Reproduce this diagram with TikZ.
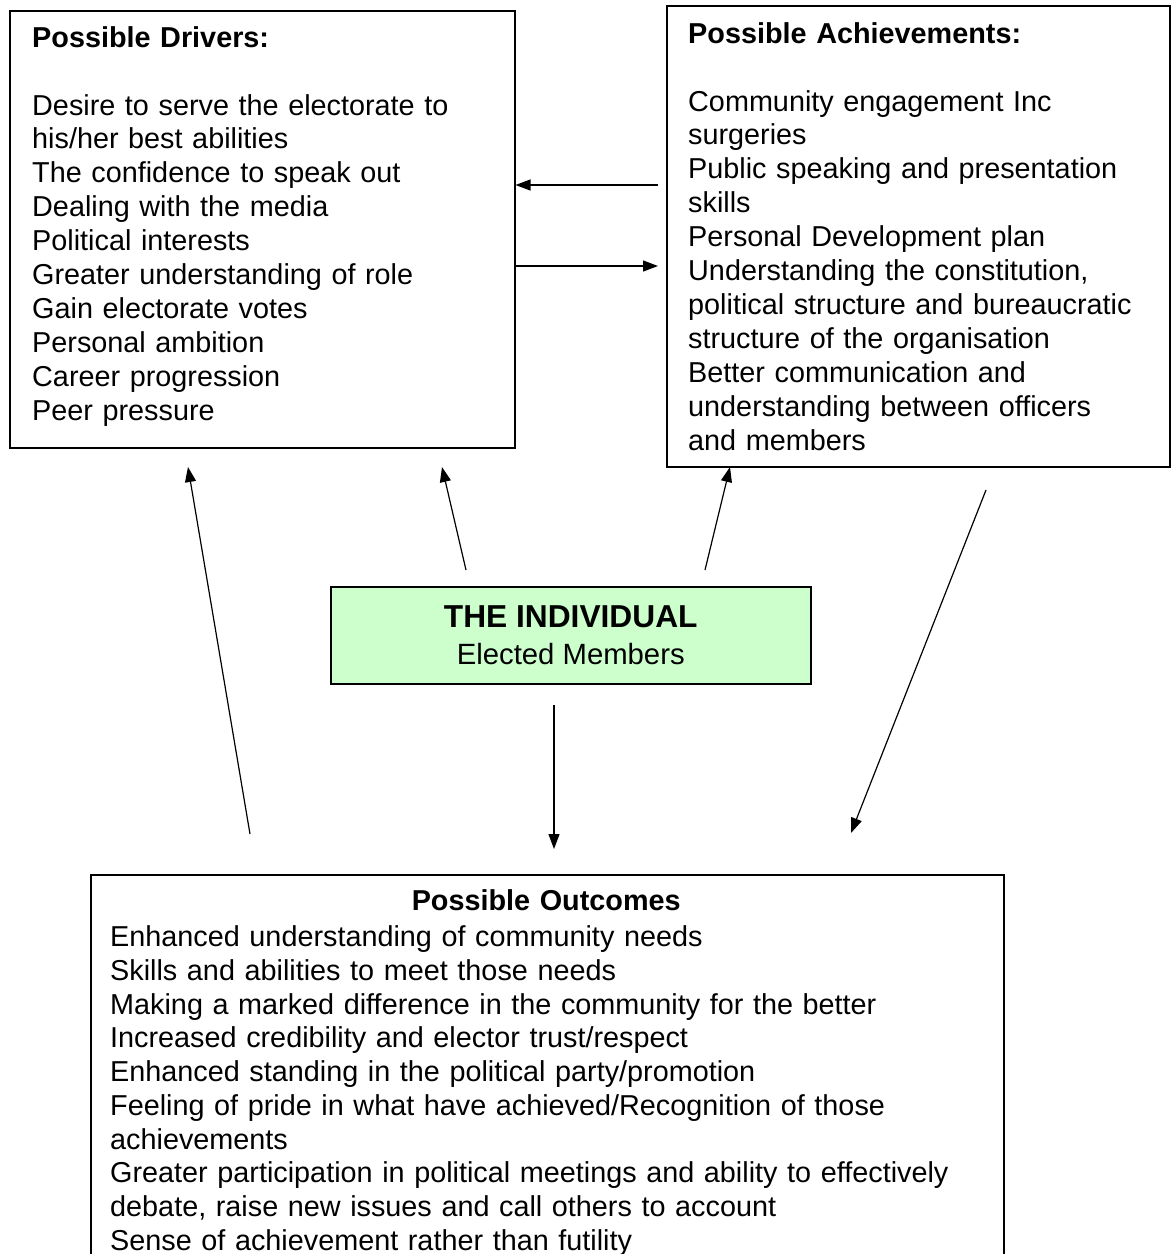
\documentclass[tikz,border=0pt]{standalone}
\usepackage{fontspec}
\setmainfont{Liberation Sans}
\usetikzlibrary{arrows.meta}
\definecolor{boxgreen}{HTML}{CCFFCC}
\begin{document}
\begin{tikzpicture}[x=1pt,y=-1pt,
  box/.style={draw=black, line width=1.5pt, rectangle, inner sep=0pt, anchor=north west},
  arr/.style={line width=1.2pt, -{Triangle[length=15pt,width=11pt]}},
  txt/.style={inner sep=0pt, anchor=north west, align=left, font={\fontsize{28.8}{33.9}\selectfont}}]
\useasboundingbox (0,0) rectangle (1171,1254);
\clip (0,0) rectangle (1171,1254);

% boxes
\node[box, minimum width=505, minimum height=437] (drivers) at (9,10) {};
\node[box, minimum width=503, minimum height=461] (achieve) at (666,5) {};
\node[box, minimum width=913, minimum height=450] (outcomes) at (90,874) {};
\node[box, fill=boxgreen, minimum width=480, minimum height=97, align=center,
      font={\fontsize{29.3}{36.5}\selectfont}] (indiv) at (330,586)
  {{\fontsize{31.7}{36.5}\selectfont\bfseries THE INDIVIDUAL}\\ Elected Members};

% texts
\node[txt, text width=480] (drvtext) at (32,23.3)
 {\strut\textbf{Possible Drivers:}\\[33.9pt]
  Desire to serve the electorate to\\
  his/her best abilities\\
  The confidence to speak out\\
  Dealing with the media\\
  Political interests\\
  Greater understanding of role\\
  Gain electorate votes\\
  Personal ambition\\
  Career progression\\
  Peer pressure};

\node[txt, text width=480] (achtext) at (688,19.3)
 {\strut\textbf{Possible Achievements:}\\[33.9pt]
  Community engagement Inc\\
  surgeries\\
  Public speaking and presentation\\
  skills\\
  Personal Development plan\\
  Understanding the constitution,\\
  political structure and bureaucratic\\
  structure of the organisation\\
  Better communication and\\
  understanding between officers\\
  and members};

\node[txt, text width=872, font={\fontsize{28.8}{33.7}\selectfont}] (outtext) at (110,886.3)
 {\makebox[\linewidth]{\strut\textbf{Possible Outcomes}}\\[3pt]
  Enhanced understanding of community needs\\
  Skills and abilities to meet those needs\\
  Making a marked difference in the community for the better\\
  Increased credibility and elector trust/respect\\
  Enhanced standing in the political party/promotion\\
  Feeling of pride in what have achieved/Recognition of those\\
  achievements\\
  Greater participation in political meetings and ability to effectively\\
  debate, raise new issues and call others to account\\
  Sense of achievement rather than futility};

% connector end points
\coordinate (lA) at (658,185);
\coordinate (rA) at (658,266);
\coordinate (t1) at (466,570);
\coordinate (h1) at (442,467);
\coordinate (t2) at (705,570);
\coordinate (h2) at (730,467);
\coordinate (t3) at (250,834);
\coordinate (h3) at (188,467);
\coordinate (t4) at (986,490);
\coordinate (h4) at (851,833);
\coordinate (t5) at (554,705);
\coordinate (h5) at (554,849);

% connectors
\draw[arr] (lA) -- (lA -| drivers.east);
\draw[arr] (rA -| drivers.east) -- (rA);
\draw[arr] (t1) -- (h1);
\draw[arr] (t2) -- (h2);
\draw[arr] (t3) -- (h3);
\draw[arr] (t4) -- (h4);
\draw[arr] (t5) -- (h5);
\end{tikzpicture}
\end{document}
